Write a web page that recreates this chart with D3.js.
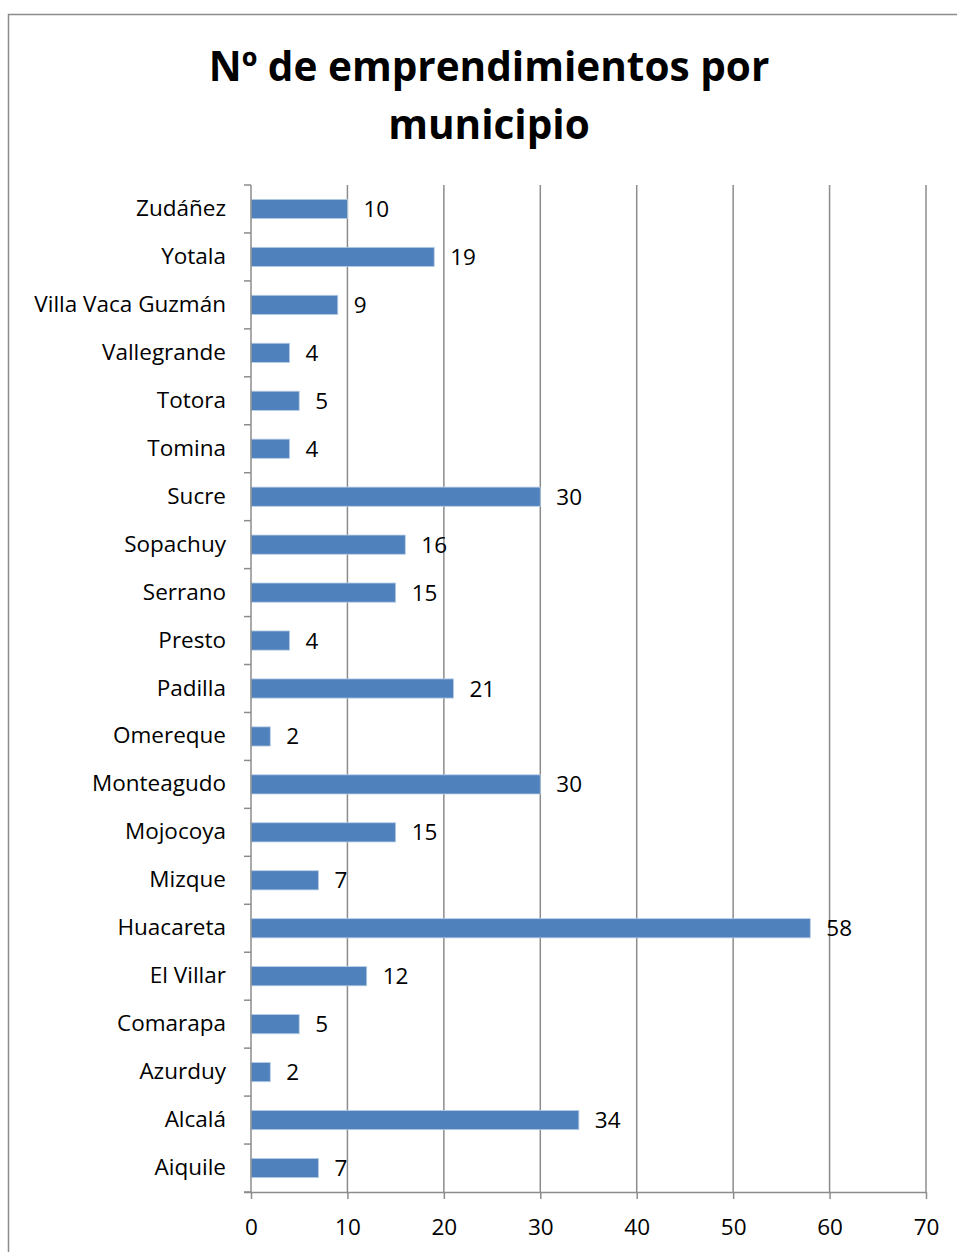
<!DOCTYPE html>
<html>
<head>
<meta charset="utf-8">
<script src="https://cdn.jsdelivr.net/npm/d3@7"></script>
<style>
  html, body { margin: 0; padding: 0; background: #fff; }
  svg { display: block; }
  text { font-family: "Open Sans", Lato, "Liberation Sans", sans-serif; fill: #000; }
</style>
</head>
<body>
<svg id="chart" width="957" height="1252"></svg>
<script>
// Municipios, listed top to bottom
const municipios = [
  "Zudáñez", "Yotala", "Villa Vaca Guzmán", "Vallegrande", "Totora", "Tomina",
  "Sucre", "Sopachuy", "Serrano", "Presto", "Padilla", "Omereque",
  "Monteagudo", "Mojocoya", "Mizque", "Huacareta", "El Villar", "Comarapa",
  "Azurduy", "Alcalá", "Aiquile"
];
// Número de emprendimientos por municipio
const emprendimientos = [
  10, 19, 9, 4, 5, 4,
  30, 16, 15, 4, 21, 2,
  30, 15, 7, 58, 12, 5,
  2, 34, 7
];
const xTicks = [0, 10, 20, 30, 40, 50, 60, 70];
const titleLines = ["Nº de emprendimientos por", "municipio"];

const svg = d3.select("#chart");
const margin = { left: 251, top: 185 };
const plotBottom = 1192;
const labelFont = "22.5px";

// Outer chart frame
svg.append("rect")
  .attr("x", 8.5).attr("y", 14.5)
  .attr("width", 960).attr("height", 1250)
  .attr("fill", "#fff").attr("stroke", "#8c8c8c").attr("stroke-width", 1.5);

// Title
svg.append("text")
  .attr("x", 489).attr("y", 81)
  .attr("text-anchor", "middle")
  .style("font-size", "40.5px").style("font-weight", "bold")
  .selectAll("tspan").data(titleLines).join("tspan")
  .attr("x", 489).attr("dy", (d, i) => i === 0 ? 0 : 58)
  .text(d => d);

const x = d3.scaleLinear().domain([0, 70]).range([margin.left, 926]);
const y = d3.scaleBand().domain(municipios).range([margin.top, plotBottom]).paddingInner(0.6).paddingOuter(0.3);
const yEdges = d3.scaleLinear().domain([0, municipios.length]).range([margin.top, plotBottom]);

// Vertical gridlines
svg.append("g").selectAll("line").data(xTicks.slice(1)).join("line")
  .attr("x1", d => x(d)).attr("x2", d => x(d))
  .attr("y1", margin.top).attr("y2", plotBottom)
  .attr("stroke", "#8c8c8c").attr("stroke-width", 1.5);

// Bars
svg.append("g").selectAll("rect").data(municipios).join("rect")
  .attr("x", x(0))
  .attr("y", d => y(d))
  .attr("width", (d, i) => x(emprendimientos[i]) - x(0))
  .attr("height", y.bandwidth())
  .attr("fill", "#4f81bd")
  .attr("stroke", "#b9cde5").attr("stroke-width", 0.8);

// Value labels
svg.append("g").selectAll("text").data(municipios).join("text")
  .attr("x", (d, i) => x(emprendimientos[i]) + 16)
  .attr("y", d => y(d) + y.bandwidth() / 2 + 8)
  .style("font-size", labelFont)
  .text((d, i) => emprendimientos[i]);

// Category axis (left)
const yAxisG = svg.append("g");
yAxisG.append("line")
  .attr("x1", x(0)).attr("x2", x(0))
  .attr("y1", margin.top).attr("y2", plotBottom)
  .attr("stroke", "#8c8c8c").attr("stroke-width", 1.5);
yAxisG.selectAll("line.tick").data(d3.range(municipios.length + 1)).join("line")
  .attr("class", "tick")
  .attr("x1", x(0) - 7).attr("x2", x(0))
  .attr("y1", d => yEdges(d)).attr("y2", d => yEdges(d))
  .attr("stroke", "#8c8c8c").attr("stroke-width", 1.5);
yAxisG.selectAll("text").data(municipios).join("text")
  .attr("x", 226)
  .attr("y", d => y(d) + y.bandwidth() / 2 + 7)
  .attr("text-anchor", "end")
  .style("font-size", labelFont)
  .text(d => d);

// Value axis (bottom)
const xAxisG = svg.append("g").attr("transform", `translate(0,${plotBottom})`)
  .call(d3.axisBottom(x).tickValues(xTicks).tickSizeInner(7).tickSizeOuter(0).tickPadding(20));
xAxisG.select(".domain").attr("stroke", "#8c8c8c").attr("stroke-width", 1.5)
  .attr("d", `M${x(0) - 7},0.5H${x(70)}`);
xAxisG.selectAll(".tick line").attr("stroke", "#8c8c8c").attr("stroke-width", 1.5);
xAxisG.selectAll(".tick text")
  .style("font-size", labelFont)
  .style("font-family", "'Open Sans', Lato, 'Liberation Sans', sans-serif")
  .attr("fill", "#000");
</script>
</body>
</html>
